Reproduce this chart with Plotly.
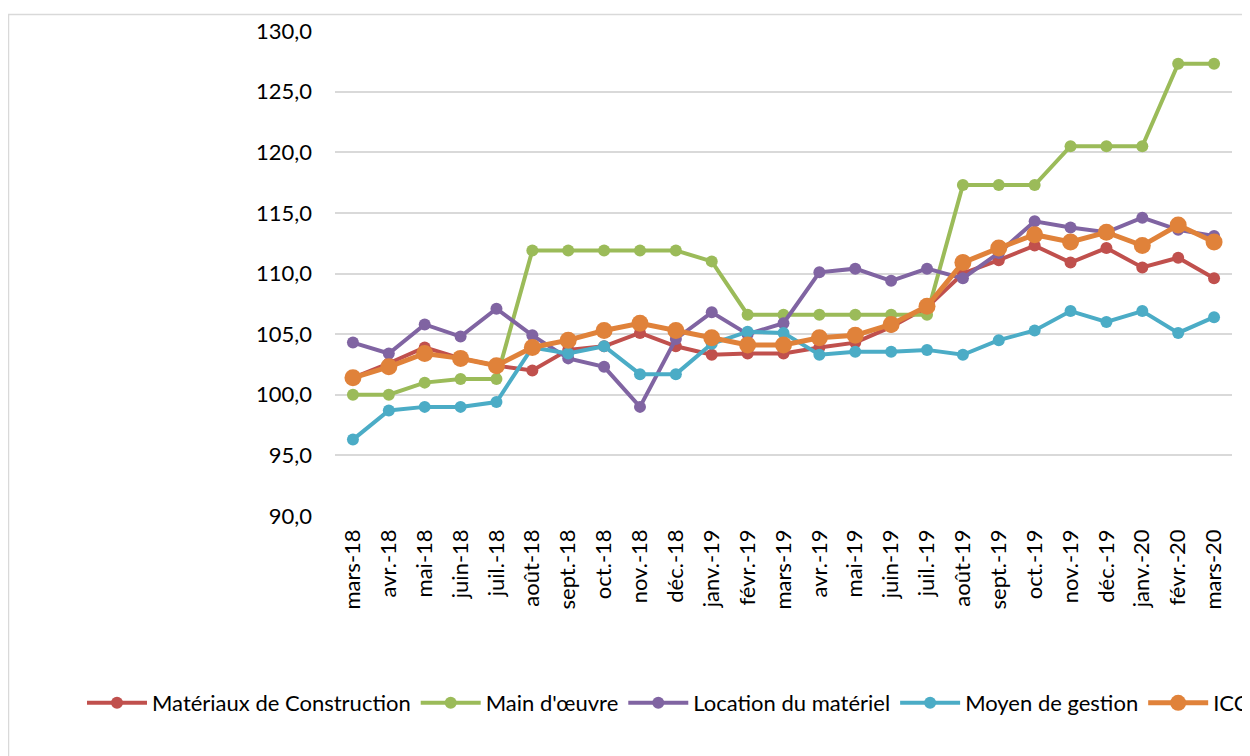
import plotly.graph_objects as go

categories = ["mars-18", "avr.-18", "mai-18", "juin-18", "juil.-18", "août-18", "sept.-18",
              "oct.-18", "nov.-18", "déc.-18", "janv.-19", "févr.-19", "mars-19", "avr.-19",
              "mai-19", "juin-19", "juil.-19", "août-19", "sept.-19", "oct.-19", "nov.-19",
              "déc.-19", "janv.-20", "févr.-20", "mars-20"]

materiaux = [101.4, 102.6, 103.9, 103.0, 102.4, 102.0, 103.7, 104.0, 105.1, 104.0, 103.3, 103.4, 103.4,
             103.9, 104.3, 105.6, 107.2, 110.0, 111.1, 112.3, 110.9, 112.1, 110.5, 111.3, 109.6]
main_oeuvre = [100.0, 100.0, 101.0, 101.3, 101.3, 111.9, 111.9, 111.9, 111.9, 111.9, 111.0, 106.6, 106.6,
               106.6, 106.6, 106.6, 106.6, 117.3, 117.3, 117.3, 120.5, 120.5, 120.5, 127.3, 127.3]
location = [104.3, 103.4, 105.8, 104.8, 107.1, 104.9, 103.0, 102.3, 99.0, 104.6, 106.8, 105.0, 105.9,
            110.1, 110.4, 109.4, 110.4, 109.6, 111.7, 114.3, 113.8, 113.4, 114.6, 113.6, 113.1]
moyen = [96.3, 98.7, 99.0, 99.0, 99.4, 103.9, 103.4, 104.0, 101.7, 101.7, 104.2, 105.2, 105.1,
         103.3, 103.55, 103.55, 103.7, 103.3, 104.5, 105.3, 106.9, 106.0, 106.9, 105.1, 106.4]
icc = [101.4, 102.3, 103.4, 103.0, 102.4, 103.9, 104.5, 105.3, 105.9, 105.3, 104.7, 104.1, 104.1,
       104.7, 104.9, 105.8, 107.3, 110.9, 112.1, 113.2, 112.6, 113.4, 112.3, 114.0, 112.6]

series_names = ["Matériaux de Construction", "Main d'œuvre", "Location du matériel", "Moyen de gestion", "ICC"]
series_values = [materiaux, main_oeuvre, location, moyen, icc]
colors = ["#C0504D", "#9BBB59", "#8064A2", "#4BACC6", "#E0823A"]
line_widths = [4, 4, 4, 4, 5]
marker_sizes = [12, 12, 12, 12, 17]

fig = go.Figure()
for name, vals, col, lw, ms in zip(series_names, series_values, colors, line_widths, marker_sizes):
    fig.add_trace(go.Scatter(
        x=categories, y=vals, name=name, mode="lines+markers",
        line=dict(color=col, width=lw),
        marker=dict(color=col, size=ms),
    ))

FONT = "Lato"
OFF = 8  # page body margin offset
W, H = 1250, 756
L, R, T, B = 335 - OFF, 26, 31 - OFF, 248
pw = W - L - R
ph = H - T - B

def px2paper_x(px):
    return (px - OFF - L) / pw

def px2paper_y(py):
    return (H - B - (py - OFF)) / ph

fig.update_layout(
    width=W, height=H,
    margin=dict(l=L, r=R, t=T, b=B, pad=0),
    paper_bgcolor="white", plot_bgcolor="white",
    separators=", ",
    font=dict(family=FONT, size=22, color="#000000"),
    showlegend=True,
    legend=dict(
        orientation="h",
        x=px2paper_x(82), xanchor="left",
        y=px2paper_y(703), yanchor="middle",
        font=dict(family=FONT, size=22, color="#000000"),
        itemwidth=60,
        traceorder="normal",
        bgcolor="rgba(0,0,0,0)",
    ),
    xaxis=dict(
        type="category", range=[-0.5, len(categories) - 0.5],
        showgrid=False, showline=False, zeroline=False,
        ticks="", tickangle=-90,
        ticklabelstandoff=8,
        tickfont=dict(family=FONT, size=22, color="#000000"),
        automargin=False,
    ),
    yaxis=dict(
        range=[90, 130], dtick=5, tick0=90,
        tickformat=".1f",
        showgrid=True, gridcolor="#D9D9D9", gridwidth=1.5,
        showline=False, zeroline=False, ticks="",
        ticklabelstandoff=22,
        tickfont=dict(family=FONT, size=22, color="#000000"),
        automargin=False,
    ),
    shapes=[dict(
        type="rect", xref="paper", yref="paper",
        x0=px2paper_x(8.5), x1=px2paper_x(1300),
        y0=px2paper_y(800), y1=px2paper_y(14.5),
        line=dict(color="#D9D9D9", width=1.5),
        fillcolor="rgba(0,0,0,0)", layer="below",
    )],
)

fig.write_html("out.html")
